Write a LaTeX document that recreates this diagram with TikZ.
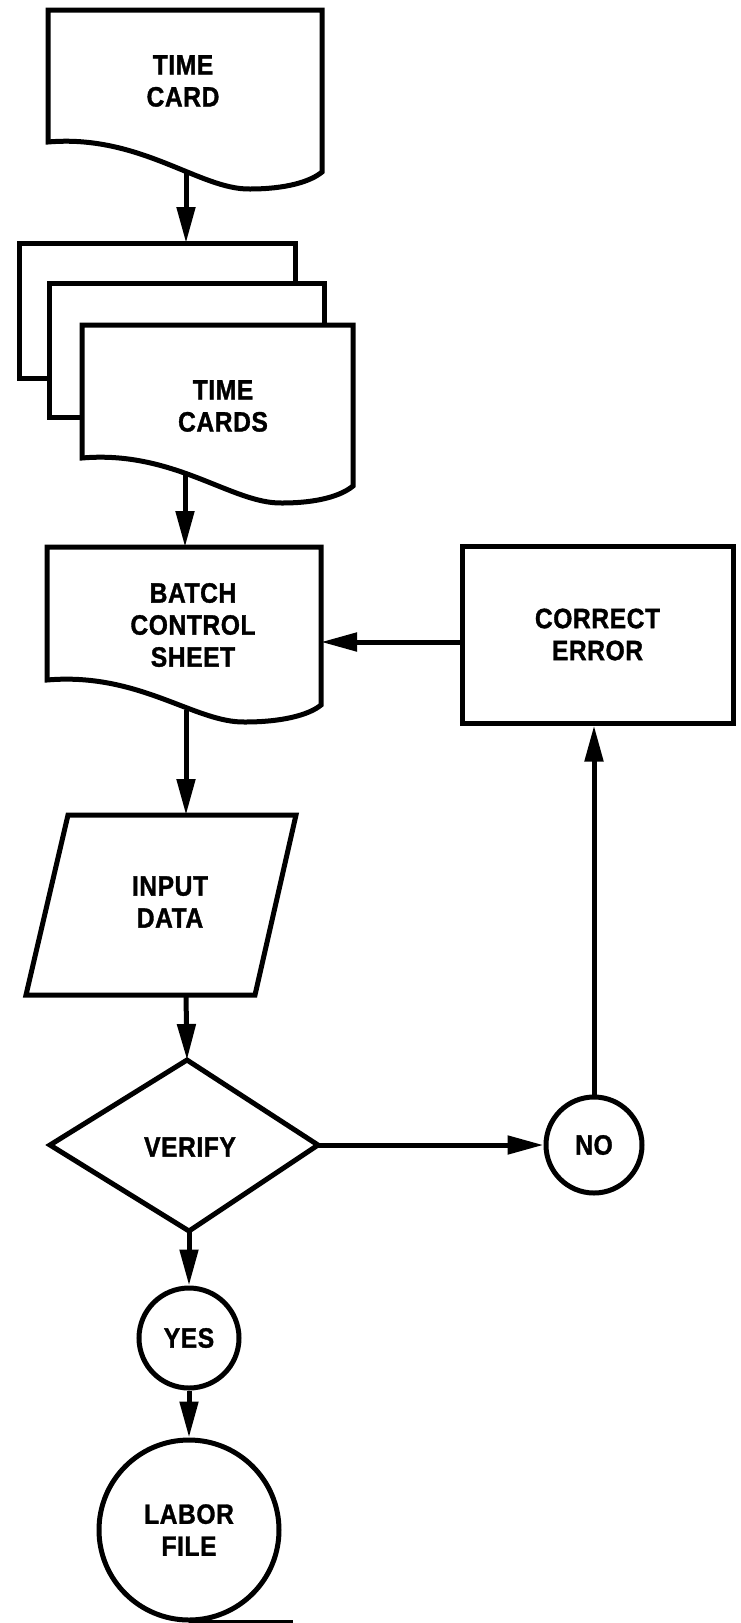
\documentclass[tikz,border=0pt]{standalone}
\usepackage{fontspec}
\setmainfont{Liberation Sans}[FakeStretch=0.88,LetterSpace=2,BoldFeatures={FakeBold=1.2}]
\usetikzlibrary{arrows.meta}
\tikzset{
  outline/.style={draw=black, line width=5pt, fill=white, line join=miter},
  lbl/.style={font=\bfseries\fontsize{28}{32}\selectfont, align=center, inner sep=0pt},
  flow/.style={line width=5pt, -{Triangle[length=36pt,width=18pt]}}
}
\begin{document}
\begin{tikzpicture}[x=1pt,y=-1pt]
\useasboundingbox (0,0) rectangle (740,1623);
\fill[white] (0,0) rectangle (740,1623);

% single time card (document symbol)
\draw[outline] (48,10) -- (322,10) -- (322,172)
  .. controls (310,182) and (285,189) .. (250,189)
  .. controls (200,190) and (140,134) .. (48,142) -- cycle;
\node[lbl] (card) at (183,81) {TIME\\CARD};

% stack of time cards
\draw[outline] (19,243) rectangle (295,378);
\draw[outline] (49,283) rectangle (324,417);
\draw[outline] (82,325) -- (353,325) -- (353,486)
  .. controls (341,496) and (317,503) .. (282,503)
  .. controls (232,504) and (174,450) .. (82,458) -- cycle;
\node[lbl] (cards) at (223,406) {TIME\\CARDS};

% batch control sheet
\draw[outline] (47,547) -- (321,547) -- (321,705)
  .. controls (309,715) and (282,722) .. (245,722)
  .. controls (195,723) and (139,672) .. (47,680) -- cycle;
\node[lbl] (batch) at (193,625) {BATCH\\CONTROL\\SHEET};

% correction step
\node[outline, lbl, minimum width=271pt, minimum height=177pt] (fix) at (597.5,634.5) {CORRECT\\ERROR};

% input parallelogram
\draw[outline] (68,815) -- (296,815) -- (255,995) -- (26,995) -- cycle;
\node[lbl] (input) at (170,902) {INPUT\\DATA};

% decision
\draw[outline] (187,1060) -- (318,1145) -- (189,1231) -- (50,1145) -- cycle;
\node[lbl] (verify) at (190,1147) {VERIFY};

% outcomes
\node[outline, lbl, circle, minimum size=96pt] (no) at (594,1145) {NO};
\node[outline, lbl, circle, minimum size=100pt] (yes) at (189,1338) {YES};

% magnetic tape file
\node[outline, lbl, circle, minimum size=180pt] (labor) at (189,1530) {LABOR\\FILE};
\draw[line width=5pt] (labor.south) -- ++(104,0);

% connection points on the drawn outlines
\coordinate (cardOut) at (186,170);
\coordinate (stackTop) at (186,243);
\coordinate (cardsOut) at (185,474);
\coordinate (batchTop) at (185,547);
\coordinate (batchOut) at (186,710);
\coordinate (batchRight) at (321,642);
\coordinate (inputTop) at (186,815);
\coordinate (inputBot) at (186,995);
\coordinate (vTop) at (187,1060);
\coordinate (vBot) at (189,1231);
\coordinate (vRight) at (318,1145);

% connectors
\draw[flow] (cardOut) -- (stackTop);
\draw[flow] (cardsOut) -- (batchTop);
\draw[flow] (batchOut) -- (inputTop);
\draw[flow] (inputBot) -- (vTop);
\draw[flow] (vRight) -- (no.west);
\draw[flow] (no.north) -- (no.north |- fix.south);
\draw[flow] (fix.west |- batchRight) -- (batchRight);
\draw[flow] (vBot) -- (yes.north);
\draw[flow] (yes.south) -- (labor.north);
\end{tikzpicture}
\end{document}
